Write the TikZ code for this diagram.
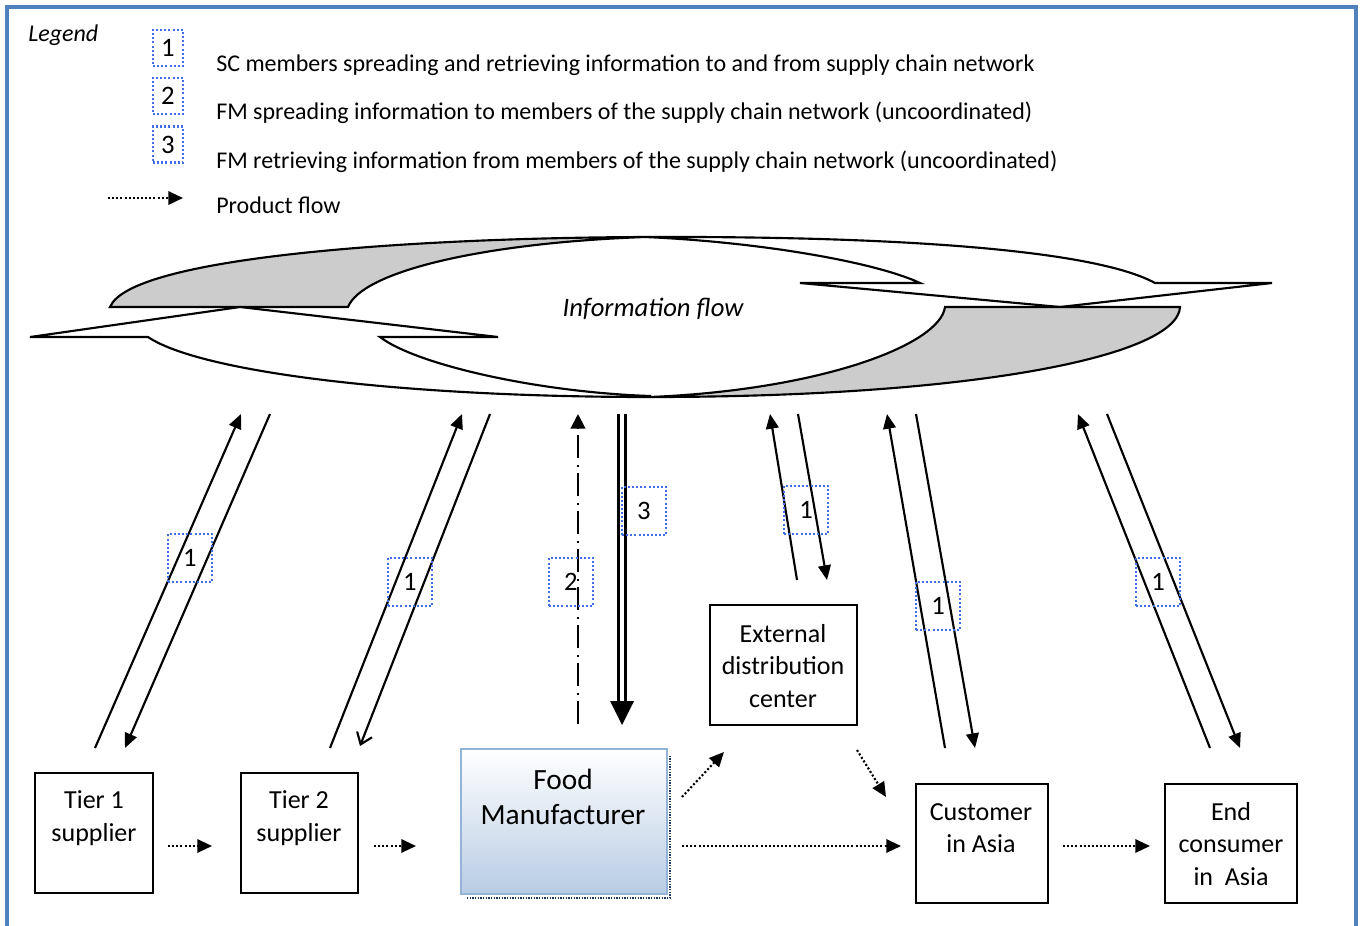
\documentclass[tikz,border=0pt]{standalone}
\usepackage{fontspec}
\setmainfont{Carlito}
\usetikzlibrary{arrows.meta,fit,calc}

\definecolor{framecol}{RGB}{79,129,189}
\definecolor{lblblue}{RGB}{65,110,230}
\definecolor{bandgray}{RGB}{204,204,204}
\definecolor{fmbot}{RGB}{184,204,228}
\definecolor{fmedge}{RGB}{149,179,215}
\definecolor{fmshadow}{RGB}{31,56,100}

\tikzset{
  framepen/.style={draw=framecol, line width=2.4pt},
  band/.style={draw=black, line width=1.6pt, line join=miter},
  blk/.style={draw=black, line width=1.8pt, inner sep=0pt},
  fmbox/.style={draw=fmedge, line width=2.2pt, inner sep=0pt, top color=white, bottom color=fmbot},
  boxtext/.style={align=center, inner sep=0pt, font=\fontsize{19.5}{24.5}\selectfont},
  fmtext/.style={align=center, inner sep=0pt, font=\fontsize{22}{26.5}\selectfont},
  legtext/.style={anchor=base west, inner sep=0pt, font=\fontsize{18}{22}\selectfont},
  numbox/.style={draw=lblblue, line width=1.8pt, dash pattern=on 1.5pt off 1.6pt,
                 minimum width=33pt, minimum height=36pt, inner sep=0pt,
                 font=\fontsize{20}{24}\selectfont},
  legnum/.style={numbox, minimum width=22.5pt, minimum height=27pt},
  infoarrow/.style={line width=1.6pt, -{Triangle[length=11pt,width=9.5pt]}},
  openarrow/.style={line width=1.6pt, -{Straight Barb[length=8pt,width=12pt,line width=1.6pt]}},
  dashdotarrow/.style={line width=1.6pt, dash pattern=on 17pt off 5pt on 1.5pt off 5pt,
                 -{Triangle[length=11pt,width=11pt,sep=0pt]}},
  dblline/.style={draw=black, line width=1.8pt, double=white, double distance=3.2pt},
  prodarrow/.style={line width=1.6pt, dash pattern=on 1.5pt off 1.6pt,
                 -{Triangle[length=11pt,width=10pt]}},
}

\begin{document}
\begin{tikzpicture}[x=0.75pt, y=-0.75pt]
\useasboundingbox (0,0) rectangle (1364,925);

% page frame (open at the bottom edge)
\draw[framepen] (7,935) -- (7,7) -- (1356,7) -- (1356,935);

% ---------- legend ----------
\node[anchor=base west, inner sep=0pt, font=\fontsize{18}{22}\selectfont\itshape] (legtitle) at (28,41) {Legend};
\node[legnum] (lg1) at (168,48) {1};
\node[legnum] (lg2) at (168,96) {2};
\node[legnum] (lg3) at (168,144.5) {3};
\node[legtext] (lt1) at (216,71) {SC members spreading and retrieving information to and from supply chain network};
\node[legtext] (lt2) at (216,119) {FM spreading information to members of the supply chain network (uncoordinated)};
\node[legtext] (lt3) at (216,168) {FM retrieving information from members of the supply chain network (uncoordinated)};
\node[legtext] (lt4) at (216,213) {Product flow};
\coordinate (lga) at (108,198);
\coordinate (lgb) at (183,198);
\draw[prodarrow] (lga) -- (lgb);

% ---------- information flow loop ----------
% upper band, shaded underside
\filldraw[band, fill=bandgray] (110,307) -- (348,307)
  .. controls (362,272) and (480,243) .. (645,237)
  .. controls (400,238) and (130,258) .. (110,307) -- cycle;
% upper band running right, with its head pointing down
\filldraw[band, fill=white] (645,237)
  .. controls (900,236) and (1095,250) .. (1155,283)
  -- (1272,283) -- (1060,307) -- (800,283) -- (920,283)
  .. controls (875,262) and (760,242) .. (645,237) -- cycle;
% lower band running left, with its head pointing up
\filldraw[band, fill=white] (650,397)
  .. controls (400,397) and (200,372) .. (148,337)
  -- (30,337) -- (240,307) -- (498,337) -- (380,337)
  .. controls (415,364) and (535,392) .. (650,396) -- cycle;
% lower band, shaded underside
\filldraw[band, fill=bandgray] (945,307) -- (1180,307)
  .. controls (1178,355) and (980,397) .. (650,397)
  .. controls (820,390) and (940,345) .. (945,307) -- cycle;
\node[inner sep=0pt, font=\fontsize{20}{24}\selectfont\itshape] (iflow) at (653,309) {Information flow};

% ---------- supply chain members ----------
\node[blk, fit={(35,773) (153,893)}] (t1) {};
\node[boxtext] (t1t) at (94,818) {Tier 1\\supplier};
\node[blk, fit={(241,773) (358,893)}] (t2) {};
\node[boxtext] (t2t) at (299,818) {Tier 2\\supplier};

\draw[fmshadow, line width=2.2pt, dash pattern=on 1pt off 1pt] (467,898) -- (670,898) -- (670,755);
\node[fmbox, fit={(461,749) (667,894)}] (fm) {};
\node[fmtext] (fmt) at (563,797) {Food\\Manufacturer};

\node[blk, fit={(710,605) (857,725)}] (edc) {};
\node[boxtext] (edct) at (783,666) {External\\distribution\\center};
\node[blk, fit={(916,784) (1048,903)}] (cus) {};
\node[boxtext] (cust) at (981,828) {Customer\\in Asia};
\node[blk, fit={(1165,784) (1297,903)}] (endc) {};
\node[boxtext] (endct) at (1231,844) {End\\consumer\\in\ \ Asia};

% ---------- information exchange with the network ----------
\coordinate (t1u0) at (95,748);   \coordinate (t1u1) at (241,414);
\coordinate (t1d0) at (270,414);  \coordinate (t1d1) at (125,748);
\draw[infoarrow] (t1u0) -- (t1u1);
\draw[infoarrow] (t1d0) -- (t1d1);
\node[numbox] (n1a) at (190,558) {1};

\coordinate (t2u0) at (330,748);  \coordinate (t2u1) at (462,414);
\coordinate (t2d0) at (490,414);  \coordinate (t2d1) at (360,746);
\draw[infoarrow] (t2u0) -- (t2u1);
\draw[openarrow] (t2d0) -- (t2d1);
\node[numbox] (n1b) at (410,582) {1};

\coordinate (fmu0) at (578,724);  \coordinate (fmu1) at (578,414);
\draw[dashdotarrow] (fmu0) -- (fmu1);
\node[numbox] (n2) at (571,582) {2};

\coordinate (fmd0) at (622,414);  \coordinate (fmd1) at (622,725);
\draw[dblline] (fmd0) -- ($(fmd1)+(0,-24)$);
\fill ($(fmd1)+(-12,-24)$) -- ($(fmd1)+(12,-24)$) -- (fmd1) -- cycle;
\node[numbox] (n3) at (644,511) {3};

\coordinate (eu0) at (797,580);   \coordinate (eu1) at (770,414);
\coordinate (ed0) at (798,414);   \coordinate (ed1) at (827,580);
\draw[infoarrow] (eu0) -- (eu1);
\draw[infoarrow] (ed0) -- (ed1);
\node[numbox] (n1c) at (806,510) {1};

\coordinate (cu0) at (945,748);   \coordinate (cu1) at (887,414);
\coordinate (cd0) at (916,414);   \coordinate (cd1) at (975,748);
\draw[infoarrow] (cu0) -- (cu1);
\draw[infoarrow] (cd0) -- (cd1);
\node[numbox] (n1d) at (938,606) {1};

\coordinate (nu0) at (1210,748);  \coordinate (nu1) at (1078,414);
\coordinate (nd0) at (1107,414);  \coordinate (nd1) at (1240,748);
\draw[infoarrow] (nu0) -- (nu1);
\draw[infoarrow] (nd0) -- (nd1);
\node[numbox] (n1e) at (1158,582) {1};

% ---------- product flow ----------
\coordinate (p1a) at (168,846);   \coordinate (p1b) at (212,846);
\coordinate (p2a) at (374,846);   \coordinate (p2b) at (416,846);
\coordinate (p3a) at (682,797);   \coordinate (p3b) at (724,752);
\coordinate (p4a) at (857,750);   \coordinate (p4b) at (886,797);
\coordinate (p5a) at (682,846);   \coordinate (p5b) at (901,846);
\coordinate (p6a) at (1063,846);  \coordinate (p6b) at (1150,846);
\draw[prodarrow] (p1a) -- (p1b);
\draw[prodarrow] (p2a) -- (p2b);
\draw[prodarrow] (p3a) -- (p3b);
\draw[prodarrow] (p4a) -- (p4b);
\draw[prodarrow] (p5a) -- (p5b);
\draw[prodarrow] (p6a) -- (p6b);
\end{tikzpicture}
\end{document}
